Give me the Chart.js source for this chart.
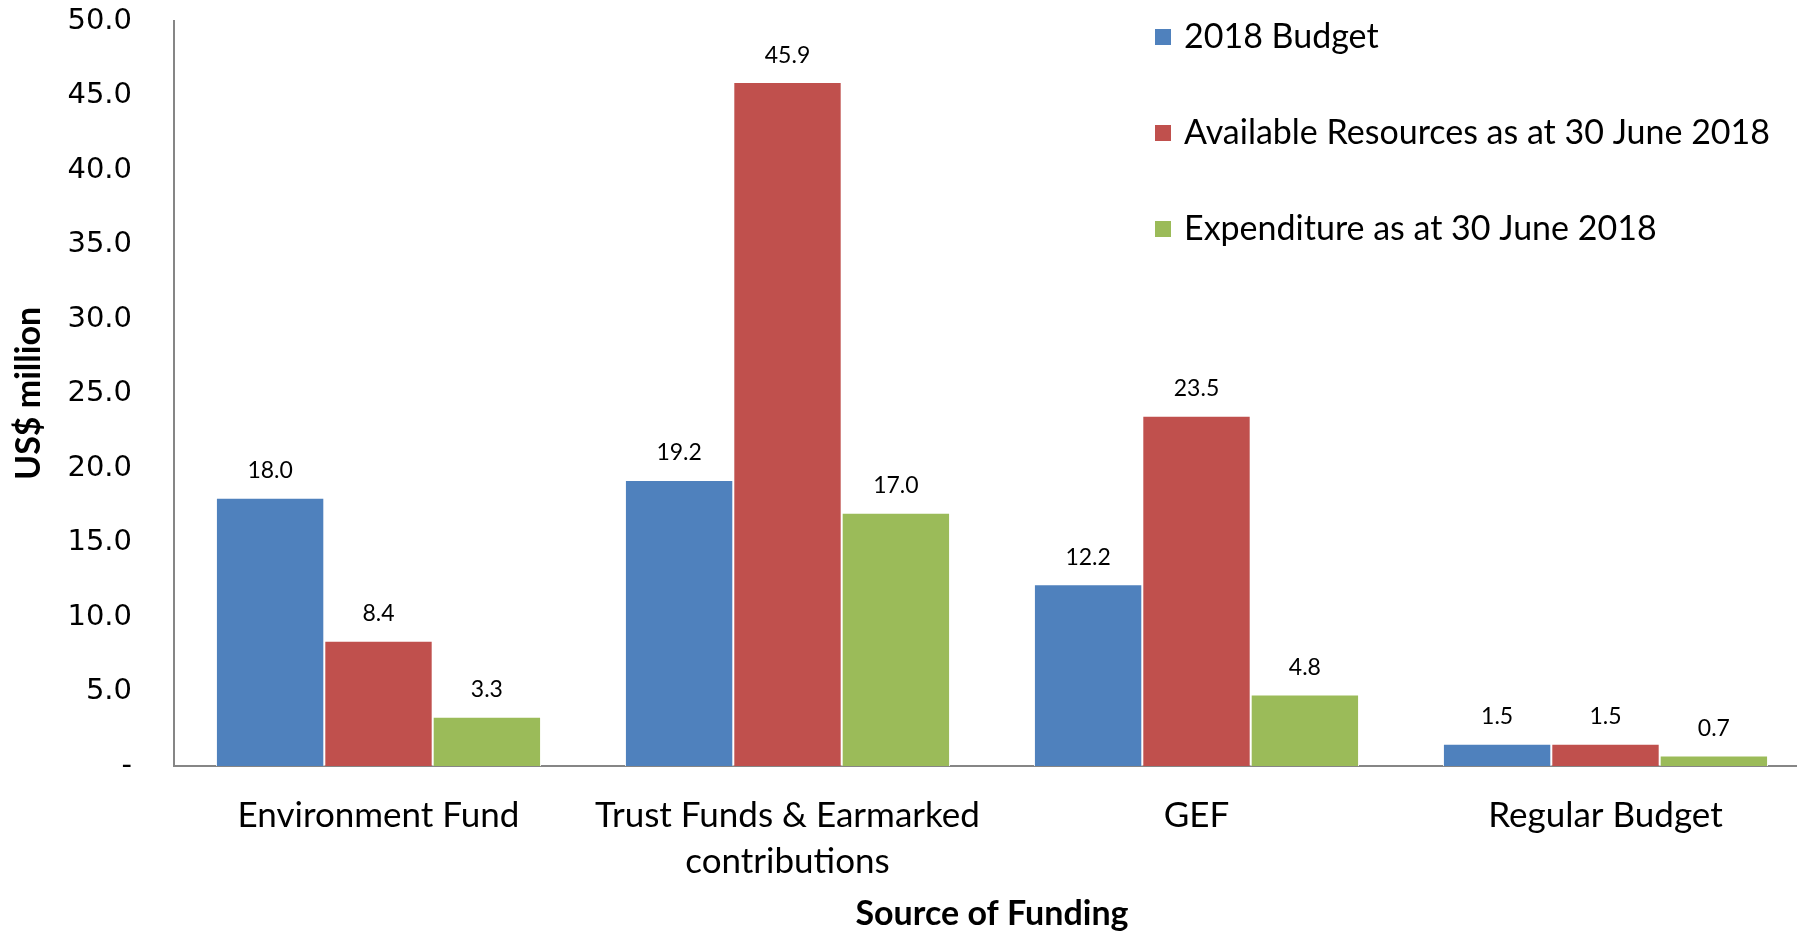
<!DOCTYPE html>
<html>
<head>
<meta charset="utf-8">
<title>Source of Funding</title>
<script src="https://cdn.jsdelivr.net/npm/chart.js"></script>
<style>
  html, body { margin: 0; padding: 0; background: #fff; overflow: hidden; }
  /* the original picture is cropped a little on the right, so the canvas is wider than the window */
  #wrap { width: 1797px; height: 932px; overflow: hidden; }
</style>
</head>
<body>
<div id="wrap"><canvas id="chartCanvas" width="1810" height="932"></canvas></div>
<script>
// values
const categories = ['Environment Fund', ['Trust Funds & Earmarked', 'contributions'], 'GEF', 'Regular Budget'];
const seriesNames = ['2018 Budget', 'Available Resources as at 30 June 2018', 'Expenditure as at 30 June 2018'];
const budget2018 = [18.0, 19.2, 12.2, 1.5];
const availableResources = [8.4, 45.9, 23.5, 1.5];
const expenditure = [3.3, 17.0, 4.8, 0.7];
const yTickValues = [0, 5, 10, 15, 20, 25, 30, 35, 40, 45, 50];

const colors = ['#4F81BD', '#C0504D', '#9BBB59'];
const textFont = 'Lato, "Open Sans", sans-serif';

// bar value labels above each bar
const valueLabels = {
  id: 'valueLabels',
  afterDatasetsDraw(chart) {
    const ctx = chart.ctx;
    ctx.save();
    ctx.fillStyle = '#000';
    ctx.font = '23px ' + textFont;
    ctx.textAlign = 'center';
    ctx.textBaseline = 'middle';
    chart.data.datasets.forEach((ds, i) => {
      chart.getDatasetMeta(i).data.forEach((bar, j) => {
        ctx.fillText(ds.data[j].toFixed(1), bar.x, bar.y - 27);
      });
    });
    ctx.restore();
  }
};

// vertical legend in the top right corner, over the plot
const sideLegend = {
  id: 'sideLegend',
  afterDraw(chart) {
    const ctx = chart.ctx;
    ctx.save();
    ctx.font = '34px ' + textFont;
    ctx.textBaseline = 'middle';
    ctx.textAlign = 'left';
    chart.data.datasets.forEach((ds, i) => {
      const y = 37 + i * 96;
      ctx.fillStyle = ds.backgroundColor;
      ctx.fillRect(1155, y - 8, 16, 16);
      ctx.fillStyle = '#000';
      ctx.fillText(ds.label, 1184, y);
    });
    ctx.restore();
  }
};

const ctx = document.getElementById('chartCanvas').getContext('2d');
new Chart(ctx, {
  type: 'bar',
  data: {
    labels: categories,
    datasets: [
      { label: seriesNames[0], data: budget2018, backgroundColor: colors[0] },
      { label: seriesNames[1], data: availableResources, backgroundColor: colors[1] },
      { label: seriesNames[2], data: expenditure, backgroundColor: colors[2] }
    ].map(d => Object.assign(d, { borderColor: '#ffffff', borderWidth: 1, categoryPercentage: 0.795, barPercentage: 1.0 }))
  },
  options: {
    responsive: false,
    animation: false,
    devicePixelRatio: 1,
    layout: { padding: { top: 21, right: 0, left: 0, bottom: 0 } },
    plugins: {
      legend: { display: false },
      tooltip: { enabled: false }
    },
    scales: {
      x: {
        grid: { display: false, drawTicks: false },
        border: { display: true, color: '#868686', width: 2 },
        ticks: { color: '#000', padding: 27, font: { family: textFont, size: 35, lineHeight: 1.3 }, maxRotation: 0, autoSkip: false },
        title: { display: true, text: 'Source of Funding', color: '#000', padding: { top: 0, bottom: -2 },
                 font: { family: textFont, size: 34, weight: 'bold' } },
        afterFit(scale) { scale.height = 166; }
      },
      y: {
        min: 0,
        max: 50,
        grid: { display: false, drawTicks: true, tickLength: 42 },
        border: { display: true, color: '#868686', width: 2 },
        afterBuildTicks(scale) { scale.ticks = yTickValues.map(v => ({ value: v })); },
        ticks: {
          color: '#000',
          padding: 0,
          font: { family: '"DejaVu Sans", Verdana, sans-serif', size: 29 },
          callback: (v) => v === 0 ? '-' : Number(v).toFixed(1)
        },
        title: { display: true, text: 'US$ million', color: '#000', padding: { top: 9, bottom: 0 },
                 font: { family: textFont, size: 34, weight: 'bold' } },
        afterFit(scale) { scale.width = 174; }
      }
    }
  },
  plugins: [valueLabels, sideLegend]
});
</script>
</body>
</html>
